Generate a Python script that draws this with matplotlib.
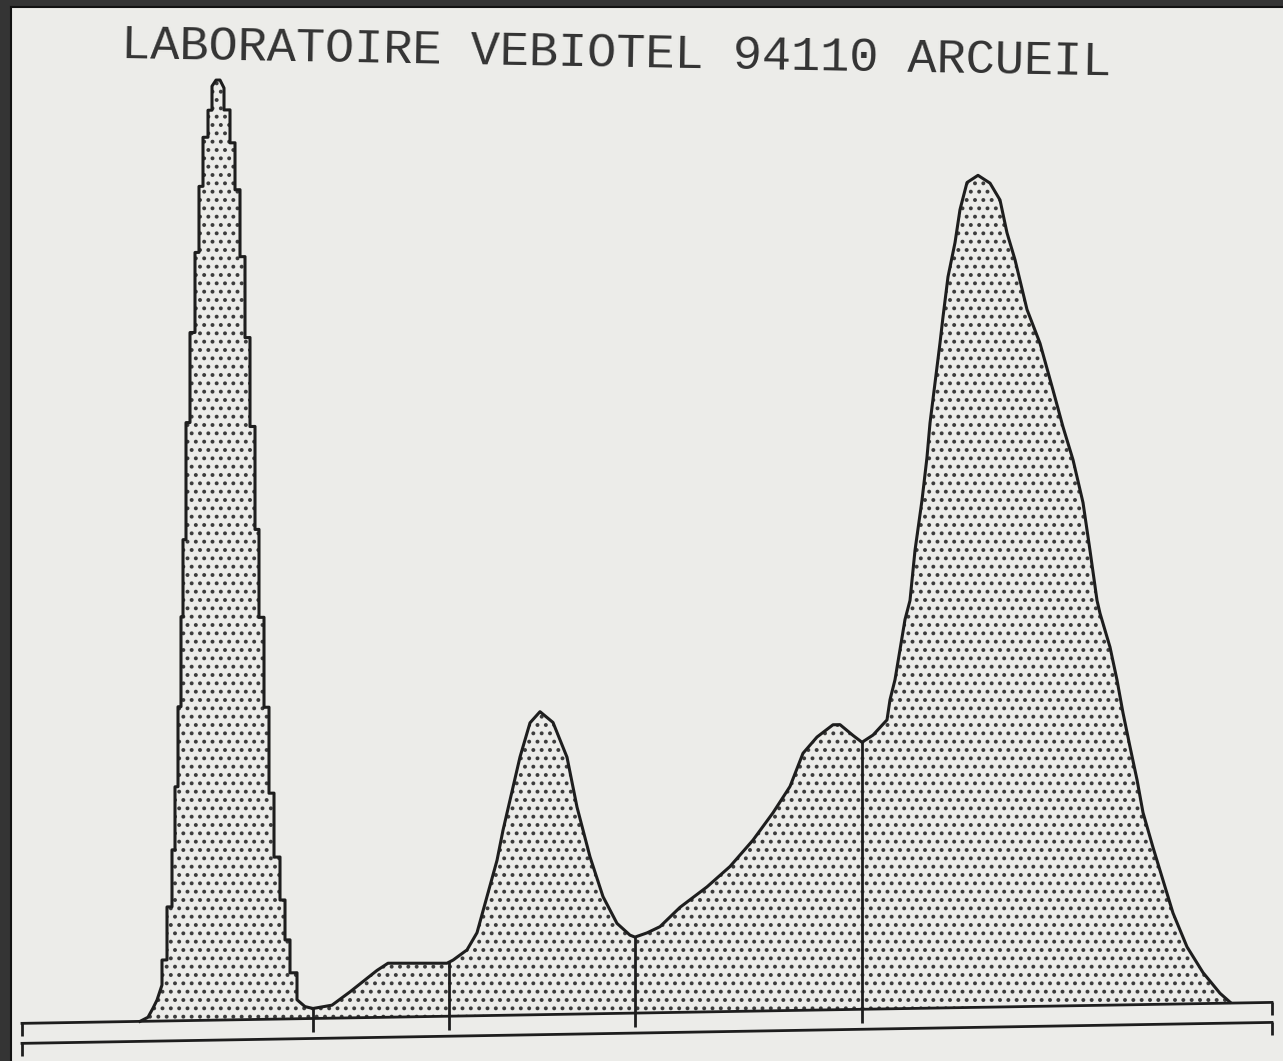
import numpy as np
import matplotlib
matplotlib.use("Agg")
import matplotlib.pyplot as plt
from matplotlib.transforms import Affine2D

# densitometry trace: position along the strip and height above the baseline
curve_x = [140, 148, 153, 157, 162, 162, 167, 167, 172, 172, 175, 175, 178, 178,
           181, 181, 183, 183, 186, 186, 190, 190, 195, 195, 199, 199, 203, 203,
           208, 208, 212, 212, 216, 220, 224, 224, 230, 230, 235, 235, 240, 240,
           245, 245, 250, 250, 255, 255, 259, 259, 264, 264, 269, 269, 274, 274,
           280, 280, 285, 285, 290, 290, 297, 297, 305, 313,
           332, 350, 377, 388, 447, 453, 467, 477, 487, 497, 503, 513, 520, 530,
           540, 553, 567, 577, 590, 603, 617, 630, 635, 647, 660, 680, 707, 730,
           753, 773, 790, 803, 817, 833, 840, 853, 862, 873, 887, 890, 895, 905,
           910, 915, 922, 927, 930, 935, 940, 943, 948, 955, 960, 967, 978, 990,
           1000, 1007, 1015, 1027, 1040, 1053, 1063, 1073, 1083, 1090, 1097, 1100,
           1110, 1117, 1123, 1130, 1137, 1143, 1153, 1163, 1173, 1187, 1203, 1220,
           1230]
curve_h = [0, 4, 13, 21, 36, 61, 61, 114, 114, 171, 171, 234, 234, 314,
           314, 404, 404, 481, 481, 598, 598, 688, 688, 768, 768, 834, 834, 883,
           883, 910, 910, 934, 940, 940, 932, 910, 910, 877, 877, 830, 830, 763,
           763, 682, 682, 593, 593, 490, 490, 402, 402, 312, 312, 226, 226, 162,
           162, 119, 119, 79, 79, 46, 46, 19, 12, 10,
           13, 26, 47, 54, 53, 56, 66, 83, 119, 155, 185, 228, 258, 292,
           303, 292, 257, 207, 157, 117, 90, 78, 76, 80, 86, 105, 125, 145,
           171, 198, 224, 257, 273, 285, 285, 274, 267, 274, 289, 309, 329, 389,
           408, 458, 508, 551, 585, 625, 665, 691, 731, 765, 798, 825, 832, 824,
           807, 774, 747, 697, 663, 616, 579, 546, 503, 455, 405, 392,
           358, 325, 292, 258, 225, 192, 157, 124, 91, 57, 31, 10,
           1]

# fraction boundaries
dividers = [313, 449, 635, 862]
scale_start, scale_end = 22, 1272

title = "LABORATOIRE VEBIOTEL 94110 ARCUEIL"

paper = "#ecece9"
ink = "#1e1e1e"

plt.rcParams["hatch.color"] = "#3c3c3c"
plt.rcParams["hatch.linewidth"] = 1.6

fig = plt.figure(figsize=(12.83, 10.61), dpi=100, facecolor="#343434")
ax = fig.add_axes([11 / 1283, 0, 1272 / 1283, 1054 / 1061])
ax.set_facecolor(paper)
ax.set_xlim(11, 1283)
ax.set_ylim(-48, 1006)
ax.set_xticks([])
ax.set_yticks([])
for side in ["right", "bottom"]:
    ax.spines[side].set_visible(False)
for side in ["left", "top"]:
    ax.spines[side].set_color("#111111")
    ax.spines[side].set_linewidth(1.5)

# the printout sits slightly askew in the photo
tr = ax.transData + Affine2D().translate(-640, 0).skew_deg(0, 0.96).translate(640, 0)

xs = np.asarray(curve_x, dtype=float)
hs = np.asarray(curve_h, dtype=float)

ax.fill(np.r_[xs[0], xs, xs[-1]], np.r_[0, hs, 0], facecolor="none",
        edgecolor="#3c3c3c", linewidth=0, hatch="..", transform=tr, zorder=1)
ax.plot(xs, hs, color=ink, lw=2.2, transform=tr, zorder=3)

top = np.interp(dividers, xs, hs)
ax.vlines(dividers, -14, top, color=ink, lw=2.0, transform=tr, zorder=3)

# double baseline with end marks
for level in [0, -20]:
    ax.plot([scale_start, scale_end], [level, level], color=ink, lw=2.0,
            transform=tr, zorder=3)
    ax.vlines([scale_start, scale_end], level - 13, level, color=ink, lw=2.0,
              transform=tr, zorder=3)

fig.text(616 / 1283, 1 - 54 / 1061, title, family="Liberation Mono",
         fontsize=35, color="#333333", ha="center", va="center", rotation=-1.0)

fig.savefig("out.png", dpi=100, facecolor=fig.get_facecolor())
